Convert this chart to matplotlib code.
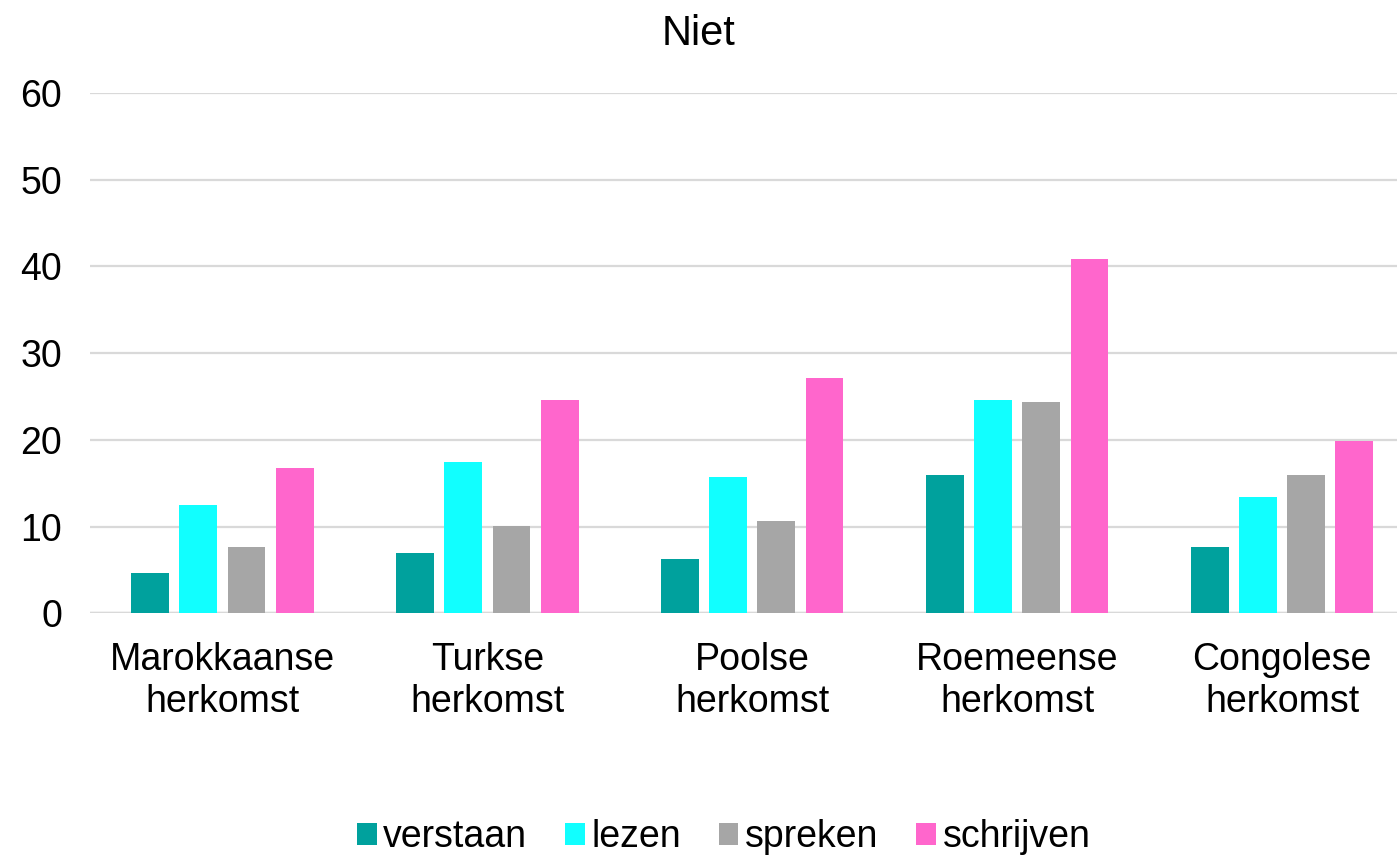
import matplotlib.pyplot as plt
import numpy as np

plt.rcParams['font.family'] = ['Liberation Sans', 'DejaVu Sans']

categories = ['Marokkaanse\nherkomst', 'Turkse\nherkomst', 'Poolse\nherkomst',
              'Roemeense\nherkomst', 'Congolese\nherkomst']
series = ['verstaan', 'lezen', 'spreken', 'schrijven']
verstaan = [4.6, 6.9, 6.3, 15.9, 7.6]
lezen = [12.5, 17.5, 15.7, 24.6, 13.4]
spreken = [7.6, 10.1, 10.7, 24.4, 15.9]
schrijven = [16.7, 24.6, 27.1, 40.8, 19.9]
colors = ['#00A19D', '#11FFFF', '#A6A6A6', '#FF66CC']


def main():
    fig = plt.figure(figsize=(13.97, 8.59), dpi=100)
    ax = fig.add_axes([90 / 1397, 1 - 613.3 / 859, 1 - 90 / 1397, (613.3 - 93) / 859])

    x = np.arange(len(categories))
    step = 0.182
    width = 0.143
    for i, (name, vals) in enumerate(zip(series, [verstaan, lezen, spreken, schrijven])):
        ax.bar(x + (i - 1.5) * step, vals, width, color=colors[i], label=name, zorder=3)

    ax.set_xlim(-0.5, 4.434)
    ax.set_ylim(0, 60)
    ax.set_yticks(range(0, 61, 10))
    ax.grid(axis='y', color='#D9D9D9', linewidth=1.6, zorder=0)
    ax.axhline(0, color='#D9D9D9', linewidth=2.5, zorder=2)
    for s in ax.spines.values():
        s.set_visible(False)
    ax.tick_params(axis='both', length=0, labelsize=27, labelcolor='black')
    ax.tick_params(axis='y', pad=20)
    ax.tick_params(axis='x', pad=21)
    ax.set_xticks(x)
    ax.set_xticklabels(categories, linespacing=1.18)

    fig.suptitle('Niet', fontsize=30, y=1 - 34 / 859, va='center')
    fig.legend(loc='center', bbox_to_anchor=(0.518, 1 - 837 / 859), ncol=4,
               frameon=False, fontsize=27, handlelength=0.53, handleheight=0.53,
               handletextpad=0.18, columnspacing=1.0, borderaxespad=0)

    fig.savefig('out.png', dpi=100)


if __name__ == '__main__':
    main()
